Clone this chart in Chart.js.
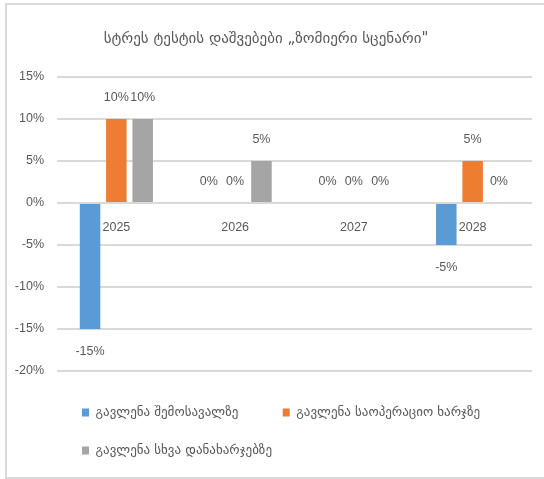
<!DOCTYPE html>
<html>
<head>
<meta charset="utf-8">
<script src="https://cdn.jsdelivr.net/npm/chart.js@4/dist/chart.umd.min.js"></script>
<style>
  html, body { margin: 0; padding: 0; background: #ffffff; }
  #wrap { position: relative; width: 544px; height: 479px; overflow: hidden; }
  #c { position: absolute; left: 0; top: 0; }
  #frame { position: absolute; left: 5px; top: 3px; width: 600px; height: 472px;
           border-left: 2px solid #d9d9d9; border-top: 2px solid #d9d9d9; border-bottom: 2px solid #d9d9d9;
           pointer-events: none; }
</style>
</head>
<body>
<div id="wrap">
  <canvas id="c" width="544" height="479"></canvas>
  <div id="frame"></div>
</div>
<script>
const chartTitle = 'სტრეს ტესტის დაშვებები „ზომიერი სცენარი"';
const categories = ['2025', '2026', '2027', '2028'];
const seriesNames = ['გავლენა შემოსავალზე', 'გავლენა საოპერაციო ხარჯზე', 'გავლენა სხვა დანახარჯებზე'];
const incomeImpact = [-15, 0, 0, -5];
const opexImpact = [10, 0, 0, 5];
const otherCostImpact = [10, 5, 0, 0];
const yTicks = [-20, -15, -10, -5, 0, 5, 10, 15];
const seriesColors = ['#5B9BD5', '#ED7D31', '#A5A5A5'];

const numFont = "'Liberation Sans Narrow', 'Liberation Sans', Arial, sans-serif";
const geoFont = "'DejaVu Sans', sans-serif";
const textColor = '#595959';

const dataLabels = {
  id: 'dataLabels',
  afterDatasetsDraw(chart) {
    const ctx = chart.ctx;
    ctx.save();
    ctx.font = '12.5px ' + numFont;
    ctx.fillStyle = textColor;
    ctx.textAlign = 'center';
    ctx.textBaseline = 'middle';
    chart.data.datasets.forEach((ds, i) => {
      const meta = chart.getDatasetMeta(i);
      meta.data.forEach((bar, j) => {
        const v = ds.data[j];
        const y = v >= 0 ? bar.y - 21 : bar.y + 23;
        ctx.fillText(v + '%', bar.x, y);
      });
    });
    ctx.restore();
  }
};

new Chart(document.getElementById('c'), {
  type: 'bar',
  data: {
    labels: categories,
    datasets: [
      { label: seriesNames[0], data: incomeImpact, backgroundColor: seriesColors[0] },
      { label: seriesNames[1], data: opexImpact, backgroundColor: seriesColors[1] },
      { label: seriesNames[2], data: otherCostImpact, backgroundColor: seriesColors[2] }
    ]
  },
  options: {
    responsive: false,
    animation: false,
    devicePixelRatio: 1,
    layout: { padding: { left: 0, right: 12, top: 0, bottom: 12 } },
    datasets: { bar: { categoryPercentage: 0.665, barPercentage: 0.78, borderWidth: 0 } },
    scales: {
      x: {
        type: 'category',
        position: { y: 0 },
        grid: { display: false, drawTicks: false },
        border: { display: false },
        ticks: { color: textColor, font: { family: numFont, size: 12.5 }, padding: 17, maxRotation: 0 }
      },
      y: {
        min: -20, max: 15,
        afterBuildTicks(scale) { scale.ticks = yTicks.map(v => ({ value: v })); },
        afterFit(scale) { scale.width = 57; },
        grid: { color: '#d9d9d9', lineWidth: 2, drawTicks: false },
        border: { display: false },
        ticks: { color: textColor, font: { family: numFont, size: 12.5 }, padding: 13, callback: v => v + '%' }
      }
    },
    plugins: {
      title: {
        display: true,
        text: chartTitle,
        color: textColor,
        font: { family: geoFont, size: 15, weight: 'normal', lineHeight: 1.2 },
        padding: { top: 30, bottom: 29 }
      },
      subtitle: {
        display: true,
        text: '',
        position: 'bottom',
        font: { size: 10, lineHeight: 1 },
        padding: 0
      },
      legend: {
        position: 'bottom',
        align: 'start',
        fullSize: false,
        weight: 3000,
        labels: {
          boxWidth: 7,
          boxHeight: 8,
          padding: 25,
          color: textColor,
          font: { family: geoFont, size: 13 },
          generateLabels(chart) {
            const items = Chart.defaults.plugins.legend.labels.generateLabels(chart);
            if (items.length) items[0].text = items[0].text + '\u2003\u2002';
            return items;
          }
        }
      },
      tooltip: { enabled: false }
    }
  },
  plugins: [dataLabels]
});
</script>
</body>
</html>
